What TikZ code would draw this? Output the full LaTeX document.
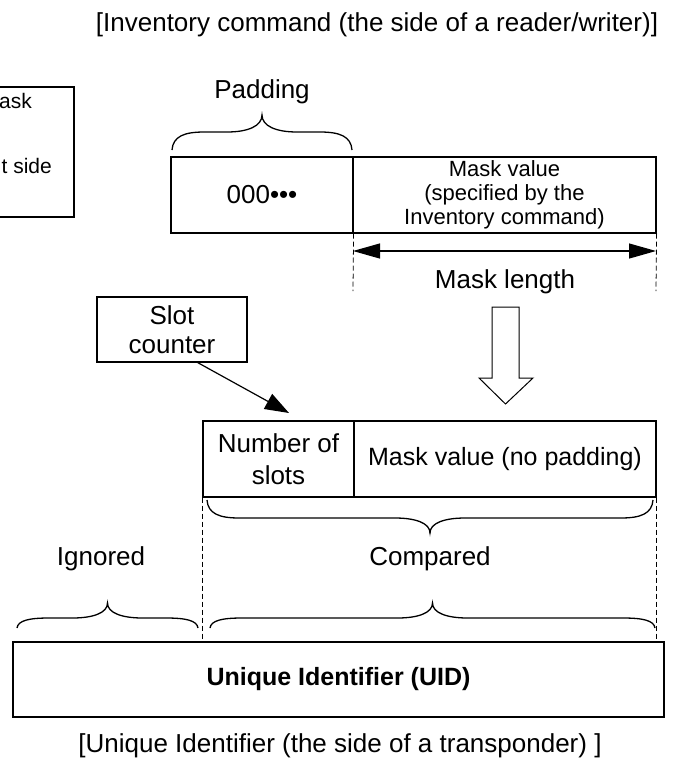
\documentclass[tikz,border=0pt]{standalone}
\usepackage{fontspec}
\setmainfont{Liberation Sans}
\usetikzlibrary{arrows.meta,calc}
\newcommand{\hbr}[5]{%
 \pgfmathsetmacro{\bxm}{(#1+#2)/2}%
 \pgfmathsetmacro{\byf}{#3-#4}%
 \pgfmathsetmacro{\byc}{#3-#5}%
 \pgfmathsetmacro{\byk}{\byf+0.35*(\byc-\byf)}%
 \pgfmathsetmacro{\byt}{#3+0.75*(\byf-#3)}%
 \draw[brc] (#1,#3) .. controls (#1+1,\byt) and (#1+12,\byf) .. (#1+32,\byf) -- (\bxm-35,\byf) .. controls (\bxm-14,\byf) and (\bxm,\byk) .. (\bxm,\byc) .. controls (\bxm,\byk) and (\bxm+14,\byf) .. (\bxm+35,\byf) -- (#2-32,\byf) .. controls (#2-12,\byf) and (#2-1,\byt) .. (#2,#3);}
\begin{document}
\begin{tikzpicture}[x=1pt,y=-1pt,
  box/.style={draw,line width=1.2pt,inner sep=0pt,align=center,font=\fontsize{26}{32}\selectfont},
  lbl/.style={inner sep=0pt,font=\fontsize{26}{30}\selectfont},
  brc/.style={line width=1.3pt},
  dsh/.style={dashed,line width=0.8pt,dash pattern=on 5pt off 3pt},
  dbl/.style={line width=1.2pt,{Triangle[length=27pt,width=15pt]}-{Triangle[length=27pt,width=15pt]}},
  slotarr/.style={line width=1.2pt,-{Triangle[length=24pt,width=17pt]}},
  hollow/.style={line width=1pt,fill=white}]
\useasboundingbox (0,0) rectangle (683,761);
% title
\node[lbl,anchor=base] (title) at (377,31) {[Inventory command (the side of a reader/writer)]};
% left partial box
\node[draw,line width=1.2pt,minimum width=84pt,minimum height=130pt,inner sep=0pt] (lbox) at (32,152) {};
\node[inner sep=0pt,anchor=base east,font=\fontsize{21}{24}\selectfont] (lt1) at (32,108) {ask};
\node[inner sep=0pt,anchor=base east,font=\fontsize{21}{24}\selectfont] (lt2) at (52,173) {t side};
% padding
\node[lbl,anchor=base] (padl) at (262,98) {Padding};
\hbr{172}{352}{150}{18}{35}
% top boxes
\node[box,minimum width=182pt,minimum height=76pt] (pad) at (262,195) {000•••};
\node[box,minimum width=303pt,minimum height=76pt,font=\fontsize{22}{24}\selectfont] (mv) at (504.5,195) {Mask value\\(specified by the\\Inventory command)};
% mask length
\coordinate (d1) at (353,291);
\coordinate (d2) at (656,291);
\draw[dsh] (pad.south east) -- (d1);
\draw[dsh] (mv.south east) -- (d2);
\coordinate (a1) at (353,251);
\coordinate (a2) at (656,251);
\draw[dbl] (a1) -- (a2);
\node[lbl,anchor=base] (ml) at (505,288) {Mask length};
% hollow arrow
\draw[hollow] (492,307) -- (519,307) -- (519,378) -- (533,378) -- (505.5,404) -- (479,378) -- (492,378) -- cycle;
% slot counter
\node[box,minimum width=150pt,minimum height=65pt,font=\fontsize{26}{29}\selectfont] (sc) at (172,329.5) {Slot\\counter};
\coordinate (sctip) at (289,413);
\draw[slotarr] ($(sc.south west)!0.67!(sc.south east)$) -- (sctip);
% middle boxes
\node[box,minimum width=151pt,minimum height=76pt,font=\fontsize{26}{32}\selectfont] (nos) at (278.5,459) {Number of\\slots};
\node[box,minimum width=302pt,minimum height=76pt,font=\fontsize{25}{30}\selectfont] (mvn) at (505,459) {Mask value (no padding)};
\hbr{207}{653}{500}{-18}{-33}
% UID box
\node[box,minimum width=651pt,minimum height=75pt,font=\fontsize{25}{30}\selectfont\bfseries] (uid) at (338.5,679.5) {Unique Identifier (UID)};
\draw[dsh] (nos.south west) -- (nos.south west |- uid.north);
\draw[dsh] (mvn.south east) -- (mvn.south east |- uid.north);
\node[lbl,anchor=base] (ign) at (101,565) {Ignored};
\node[lbl,anchor=base] (cmp) at (430,565) {Compared};
\hbr{17}{198}{628}{10}{25}
\hbr{210}{655}{628}{10}{25}
% caption
\node[lbl,anchor=base] (cap) at (340,752) {[Unique Identifier (the side of a transponder) ]};
\end{tikzpicture}
\end{document}
